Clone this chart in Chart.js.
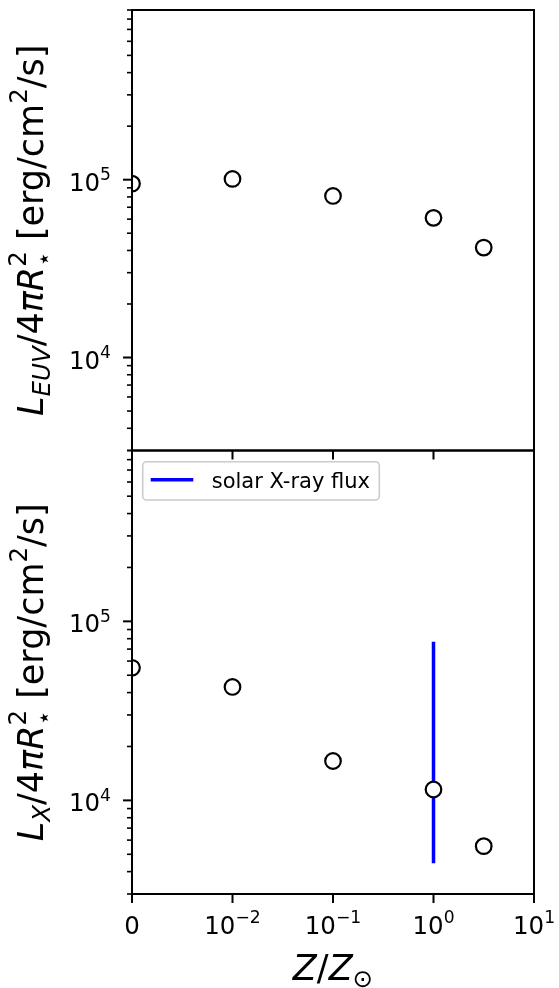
<!DOCTYPE html>
<html>
<head>
<meta charset="utf-8">
<script src="https://cdn.jsdelivr.net/npm/chart.js@4.4.1/dist/chart.umd.min.js"></script>
<style>
  html, body { margin: 0; padding: 0; background: #fff; }
  #wrap { position: relative; width: 559px; height: 988px; }
  #wrap canvas { position: absolute; left: 0; top: 0; }
</style>
</head>
<body>
<div id="wrap">
  <canvas id="euvChart" width="559" height="988"></canvas>
  <canvas id="xrayChart" width="559" height="988"></canvas>
</div>
<script>
// data
var metallicity = [0, 0.01, 0.1, 1, 3.16];
var euvFlux = [9.5e4, 1.01e5, 8.1e4, 6.1e4, 4.15e4];
var xrayFlux = [5.5e4, 4.3e4, 1.66e4, 1.15e4, 5.55e3];
var solarZ = [1, 1];
var solarXrayRange = [4.45e3, 7.7e4];

// axes
var xTickValues = [0, 0.01, 0.1, 1, 10];
var xTickExponents = [null, '\u22122', '\u22121', '0', '1'];
var yTickValues = [1e4, 1e5];
var yTickExponents = ['4', '5'];
var yMin = 3000, yMax = 900000;
var linthresh = 0.01;

var FONT = '"DejaVu Sans"';

// symmetric log: linear below linthresh, log above
function symlog(z) {
  if (Math.abs(z) <= linthresh) return z / linthresh;
  return 1 + Math.log10(z / linthresh);
}

function layoutRich(ctx, parts, size) {
  var x = 0, prevStart = 0, prevEnd = 0, items = [];
  parts.forEach(function (p) {
    var fs = size * (p.s || 1);
    var font = (p.it ? 'italic ' : '') + fs + 'px ' + FONT;
    ctx.font = font;
    var w = ctx.measureText(p.t).width;
    var start = p.back ? prevStart : x;
    var end = start + w;
    items.push({ t: p.t, font: font, x: start, dy: (p.dy || 0) * size });
    x = p.back ? Math.max(prevEnd, end) : end;
    prevStart = start;
    prevEnd = end;
  });
  return { items: items, width: x };
}

function drawRich(ctx, parts, x, y, size, align) {
  var lay = layoutRich(ctx, parts, size);
  var off = align === 'center' ? -lay.width / 2 : (align === 'right' ? -lay.width : 0);
  ctx.save();
  ctx.fillStyle = '#000';
  ctx.textAlign = 'left';
  ctx.textBaseline = 'alphabetic';
  lay.items.forEach(function (it) {
    ctx.font = it.font;
    ctx.fillText(it.t, x + off + it.x, y + it.dy);
  });
  ctx.restore();
}

function powerLabel(exp) {
  if (exp === null) return [{ t: '0' }];
  return [{ t: '10' }, { t: exp, s: 0.7, dy: -0.43 }];
}

var euvTitle = [
  { t: 'L', it: true }, { t: 'EUV', it: true, s: 0.7, dy: 0.2 },
  { t: '/4' }, { t: '\u03c0R', it: true },
  { t: '2', s: 0.7, dy: -0.5 }, { t: '\u22c6', s: 0.7, dy: 0.25, back: true },
  { t: ' [erg/cm' }, { t: '2', s: 0.7, dy: -0.45 }, { t: '/s]' }
];
var xrayTitle = [
  { t: 'L', it: true }, { t: 'X', it: true, s: 0.7, dy: 0.2 },
  { t: '/4' }, { t: '\u03c0R', it: true },
  { t: '2', s: 0.7, dy: -0.5 }, { t: '\u22c6', s: 0.7, dy: 0.25, back: true },
  { t: ' [erg/cm' }, { t: '2', s: 0.7, dy: -0.45 }, { t: '/s]' }
];
var zTitle = [
  { t: 'Z', it: true }, { t: '/' }, { t: 'Z', it: true }, { t: '\u2299', s: 0.7, dy: 0.2 }
];

// spines, ticks, labels and legend drawn matplotlib-style
var axesDecor = {
  id: 'axesDecor',
  afterDraw: function (chart, args, opts) {
    var ctx = chart.ctx;
    var area = chart.chartArea;
    var xs = chart.scales.x, ys = chart.scales.y;
    ctx.save();
    ctx.strokeStyle = '#000';

    // y ticks (major + minor)
    for (var d = Math.floor(Math.log10(yMin)); d <= Math.ceil(Math.log10(yMax)); d++) {
      for (var m = 1; m <= 9; m++) {
        var v = m * Math.pow(10, d);
        if (v < yMin * 0.999 || v > yMax * 1.001) continue;
        var py = ys.getPixelForValue(v);
        var len = m === 1 ? 9 : 5;
        ctx.lineWidth = m === 1 ? 2 : 1.6;
        ctx.beginPath();
        ctx.moveTo(area.left - len, py);
        ctx.lineTo(area.left, py);
        ctx.stroke();
      }
    }
    yTickValues.forEach(function (v, i) {
      var py = ys.getPixelForValue(v);
      drawRich(ctx, powerLabel(yTickExponents[i]), area.left - 21, py + 11, 24.5, 'right');
    });

    // x ticks
    ctx.lineWidth = 2;
    xTickValues.forEach(function (v, i) {
      var px = xs.getPixelForValue(symlog(v));
      ctx.beginPath();
      ctx.moveTo(px, area.bottom);
      ctx.lineTo(px, area.bottom + 9);
      ctx.stroke();
      if (opts.xLabels) {
        drawRich(ctx, powerLabel(xTickExponents[i]), px, area.bottom + 40, 24.5, 'center');
      }
    });

    // spines
    ctx.lineWidth = 2;
    ctx.strokeRect(area.left, area.top, area.right - area.left, area.bottom - area.top);

    // y title, rotated
    ctx.save();
    ctx.translate(43, (area.top + area.bottom) / 2);
    ctx.rotate(-Math.PI / 2);
    drawRich(ctx, opts.title, 0, 0, 35, 'center');
    ctx.restore();

    if (opts.xTitle) {
      drawRich(ctx, opts.xTitle, (area.left + area.right) / 2, area.bottom + 86, 35, 'center');
    }

    // legend
    if (opts.legend) {
      var ds = chart.data.datasets.filter(function (d) { return d.label; })[0];
      var bx = area.left + 10.7, by = area.top + 11.2, bw = 236.6, bh = 38.3;
      ctx.fillStyle = 'rgba(255,255,255,0.8)';
      ctx.strokeStyle = '#cccccc';
      ctx.lineWidth = 1.6;
      ctx.beginPath();
      ctx.roundRect(bx, by, bw, bh, 4);
      ctx.fill();
      ctx.stroke();
      ctx.strokeStyle = ds.borderColor;
      ctx.lineWidth = ds.borderWidth;
      ctx.beginPath();
      ctx.moveTo(bx + 8, by + 18);
      ctx.lineTo(bx + 50.6, by + 18);
      ctx.stroke();
      ctx.fillStyle = '#000';
      ctx.font = '21px ' + FONT;
      ctx.textBaseline = 'alphabetic';
      ctx.fillText(ds.label, bx + 69, by + 26);
    }
    ctx.restore();
  }
};

function pointsOf(xv, yv) {
  return xv.map(function (z, i) { return { x: symlog(z), y: yv[i] }; });
}

function makePanel(id, values, padTop, padBottom, extra, decor) {
  var datasets = [{
    data: pointsOf(metallicity, values),
    showLine: false,
    pointStyle: 'circle',
    pointRadius: 7.8,
    pointBorderWidth: 2.2,
    pointBorderColor: '#000',
    pointBackgroundColor: '#fff',
    clip: 0,
    order: 0
  }].concat(extra);

  return new Chart(document.getElementById(id), {
    type: 'scatter',
    data: { datasets: datasets },
    options: {
      responsive: false,
      animation: false,
      events: [],
      layout: { padding: { left: 132, right: 25, top: padTop, bottom: padBottom } },
      scales: {
        x: { type: 'linear', min: 0, max: 4, display: false },
        y: { type: 'logarithmic', min: yMin, max: yMax, display: false }
      },
      plugins: {
        legend: { display: false },
        tooltip: { enabled: false },
        axesDecor: decor
      }
    },
    plugins: [axesDecor]
  });
}

makePanel('euvChart', euvFlux, 7.5, 988 - 450.5, [], {
  title: euvTitle, xLabels: false, xTitle: null, legend: false
});

makePanel('xrayChart', xrayFlux, 450.5, 94, [{
  label: 'solar X-ray flux',
  data: pointsOf(solarZ, solarXrayRange),
  showLine: true,
  borderColor: '#0000ff',
  borderWidth: 3.5,
  borderCapStyle: 'butt',
  pointRadius: 0,
  order: 1
}], {
  title: xrayTitle, xLabels: true, xTitle: zTitle, legend: true
});
</script>
</body>
</html>
